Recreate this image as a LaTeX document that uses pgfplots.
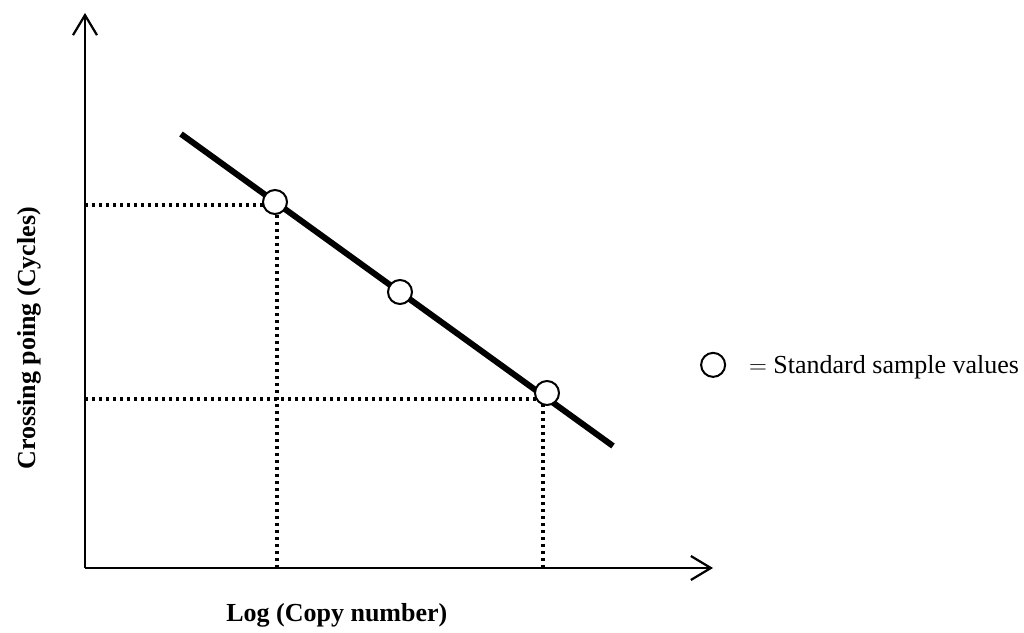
\documentclass[border=0pt]{standalone}
\usepackage{fontspec}
\setmainfont{Liberation Serif}
\usepackage{pgfplots}
\pgfplotsset{compat=1.18}
\usetikzlibrary{arrows.meta}

\begin{document}
\begin{tikzpicture}
\path[use as bounding box] (0,0) rectangle (1024bp,633bp);
\begin{axis}[
  at={(85bp,65bp)}, anchor=origin,
  scale only axis, width=628bp, height=555bp,
  xmin=0, xmax=628, ymin=0, ymax=555,
  axis lines=left, ticks=none, clip=false,
  axis line style={line width=2.2bp,-{Straight Barb[length=20bp,width=24bp,line width=2.2bp]}},
  xlabel={\bfseries Log (Copy number)},
  ylabel={\bfseries Crossing poing (Cycles)},
  every axis x label/.style={at={(rel axis cs:0.401,-0.085)},anchor=center,font=\fontsize{26bp}{30bp}\selectfont},
  every axis y label/.style={at={(rel axis cs:-0.088,0.414)},rotate=90,anchor=center,font=\fontsize{26bp}{30bp}\selectfont},
  legend style={draw=none, fill=none, at={(rel axis cs:0.976,0.366)}, anchor=west,
    font=\fontsize{26bp}{30bp}\selectfont},
]
% dotted guides to the standards
\addplot[black, line width=3.2bp, dash pattern=on 3bp off 4bp, forget plot]
  coordinates {(0,363) (190,363)};
\addplot[black, line width=3.2bp, dash pattern=on 3bp off 4bp, forget plot]
  coordinates {(192,0) (192,366)};
\addplot[black, line width=3.2bp, dash pattern=on 3bp off 4bp, forget plot]
  coordinates {(0,169) (462,169)};
\addplot[black, line width=3.2bp, dash pattern=on 3bp off 4bp, forget plot]
  coordinates {(458,0) (458,175)};
% standard curve
\addplot[black, line width=6bp, forget plot] coordinates {(96,434) (528,122)};
% standard samples
\addplot[only marks, mark=*, mark size=12bp,
  mark options={fill=white, draw=black, line width=2bp}]
  coordinates {(190,366) (315,276) (462,175)};
\addlegendentry{\hspace{22bp}$=$ Standard sample values}
\end{axis}
\end{tikzpicture}
\end{document}
